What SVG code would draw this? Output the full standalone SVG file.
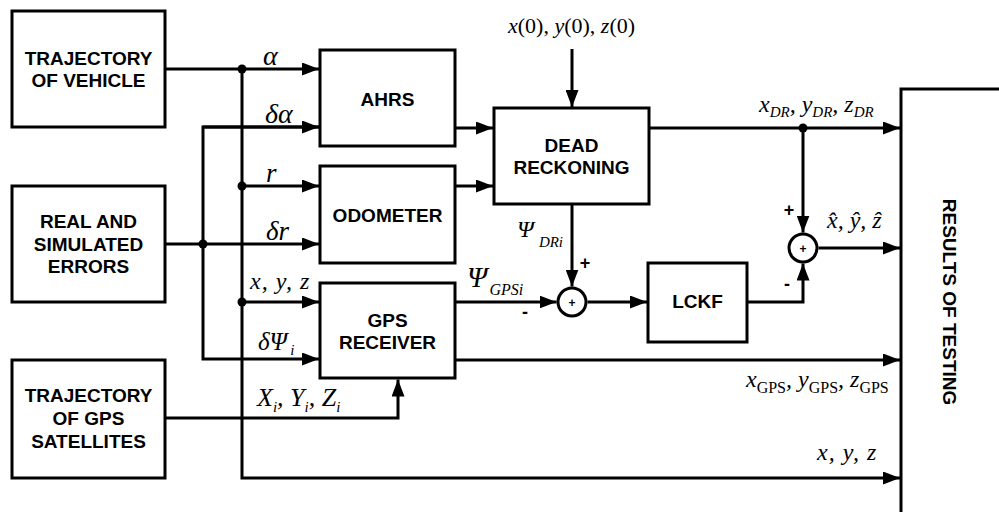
<svg xmlns="http://www.w3.org/2000/svg" width="999" height="512" viewBox="0 0 999 512">
<style>
.box{fill:#fff;stroke:#000;stroke-width:3}
.ln{fill:none;stroke:#000;stroke-width:3}
.lbl{font-family:"Liberation Sans",Arial,sans-serif;font-weight:bold;font-size:19px;text-anchor:middle;fill:#000}
.m{font-family:"Liberation Serif","Times New Roman",serif;font-style:italic;font-size:24px;fill:#000}
.u{font-style:normal}
.s{font-size:15px}
.sg{font-family:"Liberation Sans",Arial,sans-serif;font-weight:bold;font-size:18px;text-anchor:middle;fill:#000}
.dot{fill:#000}
</style>
<defs>
<marker id="ah" viewBox="0 0 17 13" refX="17" refY="6.5" markerWidth="17" markerHeight="13" markerUnits="userSpaceOnUse" orient="auto">
<path d="M0,0 L17,6.5 L0,13 z" fill="#000"/>
</marker>
</defs>
<rect width="999" height="512" fill="#fff"/>

<g id="connectors">
<path class="ln" d="M165,69 H319" marker-end="url(#ah)"/>
<path class="ln" d="M319,127 H203 V359 H319" marker-end="url(#ah)"/>
<path class="ln" d="M203,127 H319" marker-end="url(#ah)"/>
<path class="ln" d="M242,69 V478 H900" marker-end="url(#ah)"/>
<path class="ln" d="M242,186 H319" marker-end="url(#ah)"/>
<path class="ln" d="M242,302 H319" marker-end="url(#ah)"/>
<path class="ln" d="M165,244 H319" marker-end="url(#ah)"/>
<path class="ln" d="M165,418 H398 V379.5" marker-end="url(#ah)"/>
<path class="ln" d="M455,128 H493" marker-end="url(#ah)"/>
<path class="ln" d="M455,186 H493" marker-end="url(#ah)"/>
<path class="ln" d="M572,49 V107" marker-end="url(#ah)"/>
<path class="ln" d="M572,204 V286.5" marker-end="url(#ah)"/>
<path class="ln" d="M455,302 H556.5" marker-end="url(#ah)"/>
<path class="ln" d="M587.5,302 H647" marker-end="url(#ah)"/>
<path class="ln" d="M455,360 H900" marker-end="url(#ah)"/>
<path class="ln" d="M649,128 H900" marker-end="url(#ah)"/>
<path class="ln" d="M803,128 V232.5" marker-end="url(#ah)"/>
<path class="ln" d="M747,302 H803 V263.5" marker-end="url(#ah)"/>
<path class="ln" d="M818.5,248 H900" marker-end="url(#ah)"/>
<circle class="dot" cx="242" cy="69" r="4.5"/>
<circle class="dot" cx="242" cy="186" r="4.5"/>
<circle class="dot" cx="242" cy="302" r="4.5"/>
<circle class="dot" cx="203" cy="244" r="4.5"/>
<circle class="dot" cx="803" cy="128" r="4.5"/>

<text class="m" x="263" y="65" style="font-size:28px">α</text>
<text class="m" x="265" y="123" style="font-size:28px">δα</text>
<text class="m" x="266" y="182" style="font-size:27px">r</text>
<text class="m" x="266" y="240" style="font-size:27px">δr</text>
<text class="m" x="250" y="289" letter-spacing="1">x, y, z</text>
<text class="m" x="258" y="350" style="font-size:25px">δΨ<tspan class="s" dx="3" dy="5">i</tspan></text>
<text class="m" x="257" y="406" style="font-size:26px">X<tspan class="s" dy="6">i</tspan><tspan dy="-6">, Y</tspan><tspan class="s" dy="6">i</tspan><tspan dy="-6">, Z</tspan><tspan class="s" dy="6">i</tspan></text>
<text class="m" x="508" y="33" style="font-size:22px">x<tspan class="u">(0), </tspan>y<tspan class="u">(0), </tspan>z<tspan class="u">(0)</tspan></text>
<text class="m" x="517" y="237" style="font-size:24px">Ψ<tspan class="s" dx="5" dy="10">DRi</tspan></text>
<text class="m" x="467" y="287" style="font-size:29px">Ψ<tspan class="s" style="font-size:16px" dx="2" dy="8">GPSi</tspan></text>
<text class="m" x="759" y="112">x<tspan class="s" dy="5">DR</tspan><tspan dy="-5">, y</tspan><tspan class="s" dy="5">DR</tspan><tspan dy="-5">, z</tspan><tspan class="s" dy="5">DR</tspan></text>
<text class="m" x="746" y="387">x<tspan class="s u" style="font-size:16px" dy="6">GPS</tspan><tspan dy="-6">, y</tspan><tspan class="s u" style="font-size:16px" dy="6">GPS</tspan><tspan dy="-6">, z</tspan><tspan class="s u" style="font-size:16px" dy="6">GPS</tspan></text>
<text class="m" x="817" y="460" letter-spacing="1">x, y, z</text>
<text class="m" x="827" y="228">x̂, ŷ, ẑ</text>
<text class="sg" x="585" y="269">+</text>
<text class="sg" x="525" y="318">-</text>
<text class="sg" x="789" y="216">+</text>
<text class="sg" x="787" y="290">-</text>
</g>

<g id="traj-vehicle">
<rect class="box" x="12" y="11" width="153" height="116"/>
<text class="lbl" x="88.5" y="65">TRAJECTORY</text>
<text class="lbl" x="88.5" y="87">OF VEHICLE</text>
</g>
<g id="errors">
<rect class="box" x="12" y="186" width="153" height="116"/>
<text class="lbl" x="88.5" y="228">REAL AND</text>
<text class="lbl" x="88.5" y="251">SIMULATED</text>
<text class="lbl" x="88.5" y="273">ERRORS</text>
</g>
<g id="traj-gps">
<rect class="box" x="12" y="360" width="153" height="118"/>
<text class="lbl" x="88.5" y="402">TRAJECTORY</text>
<text class="lbl" x="88.5" y="425">OF GPS</text>
<text class="lbl" x="88.5" y="448">SATELLITES</text>
</g>
<g id="ahrs">
<rect class="box" x="320" y="50" width="135" height="96"/>
<text class="lbl" x="387.5" y="106">AHRS</text>
</g>
<g id="odometer">
<rect class="box" x="320" y="166" width="135" height="97"/>
<text class="lbl" x="387.5" y="222">ODOMETER</text>
</g>
<g id="gps-receiver">
<rect class="box" x="320" y="283" width="135" height="95"/>
<text class="lbl" x="387.5" y="327">GPS</text>
<text class="lbl" x="387.5" y="349">RECEIVER</text>
</g>
<g id="dead-reckoning">
<rect class="box" x="494" y="108" width="155" height="96"/>
<text class="lbl" x="571.5" y="152">DEAD</text>
<text class="lbl" x="571.5" y="174">RECKONING</text>
</g>
<g id="sum1">
<circle class="box" cx="572" cy="302" r="14"/>
<text class="sg" x="572" y="307" style="font-size:12px">+</text>
</g>
<g id="lckf">
<rect class="box" x="648" y="263" width="99" height="79"/>
<text class="lbl" x="697.5" y="308">LCKF</text>
</g>
<g id="sum2">
<circle class="box" cx="803" cy="248" r="14"/>
<text class="sg" x="803" y="253" style="font-size:12px">+</text>
</g>
<g id="results">
<path class="ln" d="M901,520 V89 H1005"/>
<text class="lbl" transform="translate(943,302) rotate(90)">RESULTS OF TESTING</text>
</g>
</svg>
